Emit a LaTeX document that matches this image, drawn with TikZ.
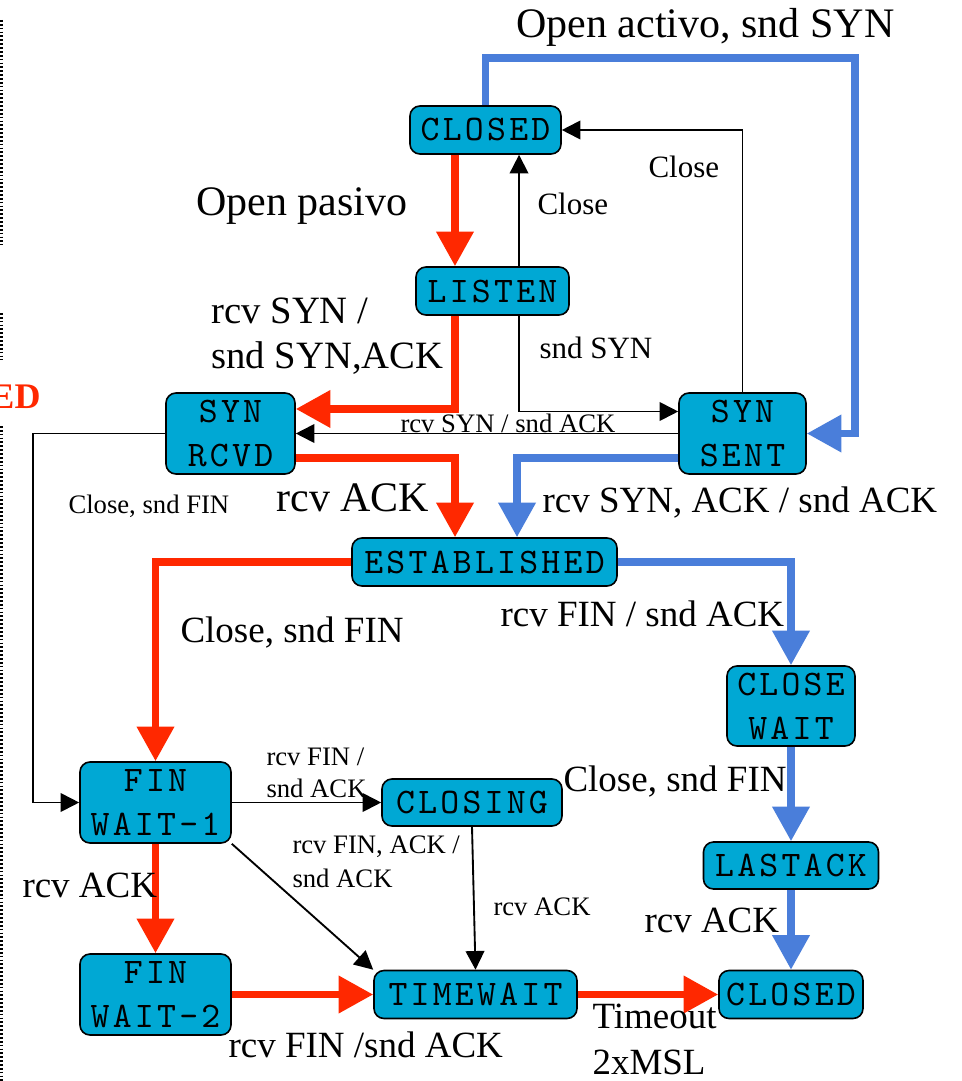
\documentclass[tikz,border=0pt]{standalone}
\usepackage{fontspec}
\setmainfont{Liberation Serif}
\newfontfamily\statefont{lmmono10-regular.otf}[LetterSpace=9]
\usetikzlibrary{arrows.meta}

\definecolor{tcpcyan}{RGB}{0,168,212}
\definecolor{tcpred}{RGB}{255,40,0}
\definecolor{tcpblue}{RGB}{74,126,218}

\tikzset{every picture/.style={line width=0.75pt}}
\tikzset{
  state/.style={draw=black, line width=1.2pt, fill=tcpcyan, rounded corners=7.5pt,
    inner sep=0pt, align=center, font=\statefont\fontsize{27}{33}\selectfont},
  redpath/.style={draw=tcpred, line width=5.5pt, -{Triangle[length=26pt,width=27pt]}},
  bluepath/.style={draw=tcpblue, line width=5.5pt, -{Triangle[length=26pt,width=27pt]}},
  thinpath/.style={draw=black, line width=1.4pt, -{Triangle[length=14pt,width=14pt]}},
  lblbig/.style={inner sep=0pt, font=\fontsize{31.5}{36}\selectfont},
  lblmed/.style={inner sep=0pt, align=left, font=\fontsize{27.75}{33.75}\selectfont},
  lblmid/.style={inner sep=0pt, font=\fontsize{23.25}{28}\selectfont},
  lblsmall/.style={inner sep=0pt, align=left, font=\fontsize{20}{24}\selectfont},
  dotrule/.style={line width=1.5pt, dash pattern=on 1.3pt off 1.6pt}
}

\begin{document}
\begin{tikzpicture}[x=0.75pt,y=0.75pt,yscale=-1,xscale=1]
\useasboundingbox (0,0) rectangle (961,1081);

%Shape: dotted page edge
\draw[dotrule] (1.5,20) -- (1.5,245);
\draw[dotrule] (1.5,313) -- (1.5,360);
\draw[dotrule] (1.5,426) -- (1.5,1081);

%States
\node[state,minimum width=113.25pt,minimum height=36pt] (closedtop) at (485.5,130) {CLOSED};
\node[state,minimum width=114.75pt,minimum height=36pt] (listen) at (492.5,291) {LISTEN};
\node[state,minimum width=96.75pt,minimum height=60.75pt] (synrcvd) at (230.5,433.5) {SYN\\RCVD};
\node[state,minimum width=95.25pt,minimum height=60.75pt] (synsent) at (742.5,433.5) {SYN\\SENT};
\node[state,minimum width=198.75pt,minimum height=36pt] (established) at (484.5,562) {ESTABLISHED};
\node[state,minimum width=96pt,minimum height=60pt] (closewait) at (791,706) {CLOSE\\WAIT};
\node[state,minimum width=113.25pt,minimum height=60.75pt] (finwait1) at (155.5,802.5) {FIN\\WAIT-1};
\node[state,minimum width=135pt,minimum height=35.25pt] (closing) at (472,802.5) {CLOSING};
\node[state,minimum width=131.25pt,minimum height=35.25pt] (lastack) at (791,865.5) {LASTACK};
\node[state,minimum width=113.25pt,minimum height=60.75pt] (finwait2) at (155.5,994.5) {FIN\\WAIT-2};
\node[state,minimum width=152.25pt,minimum height=36pt] (timewait) at (475.5,994.5) {TIMEWAIT};
\node[state,minimum width=108pt,minimum height=36pt] (closedbot) at (791,994.5) {CLOSED};

\coordinate (topturn) at (855,58);
\coordinate (leftrail) at (33,600);

%Straight Lines
\draw[bluepath] (closedtop.north) |- (topturn) |- (synsent.east);
\draw[redpath] ([xshift=-22.9pt]closedtop.south) -- ([xshift=-22.9pt]closedtop.south |- listen.north);
\draw[thinpath] ([xshift=19.9pt]listen.north) -- ([xshift=19.9pt]listen.north |- closedtop.south);
\draw[thinpath] (synsent.north) |- (closedtop.east);
\draw[thinpath] ([xshift=19.9pt]listen.south) |- ([yshift=-16.5pt]synsent.west);
\draw[redpath] ([xshift=-28.1pt]listen.south) |- ([yshift=-18.4pt]synrcvd.east);
\draw[thinpath] (synsent.west) -- (synrcvd.east);
\draw[thinpath] (synrcvd.west) -| (leftrail) |- (finwait1.west);
\draw[redpath] ([yshift=18.4pt]synrcvd.east) -| ([xshift=-22.1pt]established.north);
\draw[bluepath] ([yshift=18.4pt]synsent.west) -| ([xshift=24.4pt]established.north);
\draw[bluepath] (established.east) -| (closewait.north);
\draw[redpath] (established.west) -| (finwait1.north);
\draw[bluepath] (closewait) -- (lastack);
\draw[bluepath] (lastack) -- (closedbot);
\draw[thinpath] (finwait1) -- (closing);
\draw[thinpath] (finwait1.south east) -- (timewait.north west);
\draw[thinpath] (closing.south) -- (timewait.north);
\draw[redpath] (finwait1) -- (finwait2);
\draw[redpath] (finwait2) -- (timewait);
\draw[redpath] (timewait) -- (closedbot);

% Text Node
\node[lblbig,anchor=base west] (lopenact) at (516,38) {Open activo, snd SYN};
% Text Node
\node[lblbig,anchor=base west] (lopenpas) at (196,215) {Open pasivo};
% Text Node
\node[lblmid,anchor=base west] (lcloseA) at (537,214) {Close};
% Text Node
\node[lblmid,anchor=base west] (lcloseB) at (648,177) {Close};
% Text Node
\node[lblmed,anchor=base west,font=\fontsize{29}{33.75}\selectfont] (lsynack) at (211,368) {rcv SYN /\\snd SYN,ACK};
% Text Node
\node[lblmid,anchor=base west] (lsndsyn) at (539,358) {snd SYN};
% Text Node
\node[lblsmall,anchor=base west] (lsynsnd) at (400,432) {rcv SYN / snd ACK};
% Text Node
\node[lblsmall,anchor=base west] (lclosefinA) at (68,513) {Close, snd FIN};
% Text Node
\node[lblbig,anchor=base west] (lrcvackA) at (276,511) {rcv ACK};
% Text Node
\node[lblmed,anchor=base west] (lsynackB) at (542,512) {rcv SYN, ACK / snd ACK};
% Text Node
\node[lblmed,anchor=base west] (lrcvfinA) at (500,626) {rcv FIN / snd ACK};
% Text Node
\node[lblmed,anchor=base west] (lclosefinB) at (180,642) {Close, snd FIN};
% Text Node
\node[lblmed,anchor=base west] (lclosefinC) at (563,791) {Close, snd FIN};
% Text Node
\node[lblsmall,anchor=base west] (lrcvfinB) at (266,797) {rcv FIN /\\snd ACK};
% Text Node
\node[lblsmall,anchor=base west,font=\fontsize{20}{25.5}\selectfont] (lfinack) at (292,887) {rcv FIN, ACK /\\snd ACK};
% Text Node
\node[lblsmall,anchor=base west] (lrcvackB) at (493,915) {rcv ACK};
% Text Node
\node[lblmed,anchor=base west] (lrcvackC) at (22,897) {rcv ACK};
% Text Node
\node[lblmed,anchor=base west] (lrcvackD) at (644,932) {rcv ACK};
% Text Node
\node[lblmed,anchor=base west] (lrcvfinC) at (228,1057) {rcv FIN /snd ACK};
% Text Node
\node[lblmed,anchor=base west,font=\fontsize{27.75}{34}\selectfont] (ltimeout) at (592,1074) {Timeout\\2xMSL};
% Text Node
\node[inner sep=0pt,anchor=base east,text=tcpred,font=\bfseries\fontsize{27}{30}\selectfont] (ledge) at (41,408) {ED};

\end{tikzpicture}
\end{document}
